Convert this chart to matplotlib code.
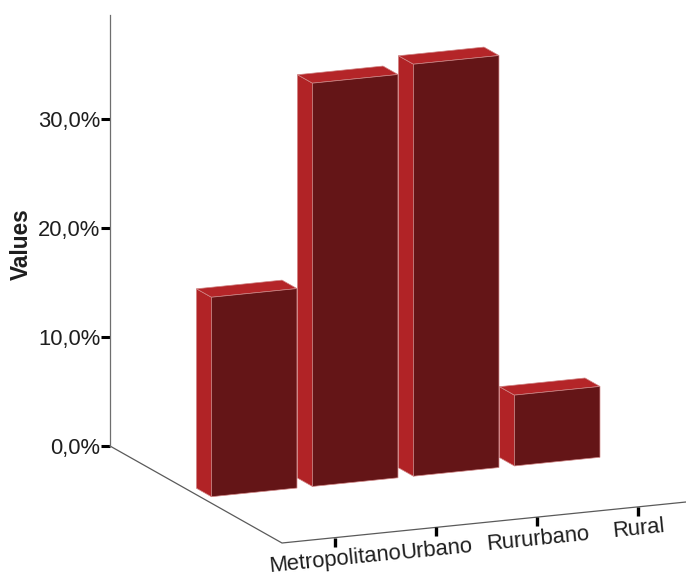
import matplotlib
matplotlib.use('Agg')
import matplotlib.pyplot as plt
from matplotlib.patches import Polygon
from matplotlib.ticker import FuncFormatter

# datos (porcentajes)
categories = ['Metropolitano', 'Urbano', 'Rururbano', 'Rural']
values = [18.3, 37.0, 37.8, 6.5]
y_ticks = [0, 10, 20, 30]

plt.rcParams['font.family'] = ['Liberation Sans', 'DejaVu Sans']

fig = plt.figure(figsize=(6.86, 5.79), dpi=100)
ax = fig.add_axes([0, 0, 1, 1])

# pixeles por % en el eje vertical y esquina trasera izquierda del suelo
PX = 10.9
X0, Y0 = 110, 446
ax.set_xlim(0, 686)
ax.set_ylim((Y0 - 579) / PX, Y0 / PX)

# proyeccion oblicua: u = categoria, w = profundidad (0 fondo, 1 frente), z = valor
EU = (101.0, 10.25 / PX)
EW = (172.0, -97.0 / PX)


def proj(u, w, z):
    return (X0 + u * EU[0] + w * EW[0], z + u * EU[1] + w * EW[1])


# eje de valores
for s in ['top', 'right', 'bottom']:
    ax.spines[s].set_visible(False)
ax.spines['left'].set_position(('data', X0))
ax.spines['left'].set_bounds(0, (Y0 - 15) / PX)
ax.spines['left'].set_color('#6e6e6e')
ax.spines['left'].set_linewidth(0.9)
ax.set_xticks([])
ax.set_yticks(y_ticks)
ax.yaxis.set_major_formatter(FuncFormatter(lambda v, p: f'{v:.1f}%'.replace('.', ',')))
ax.tick_params(axis='y', direction='out', length=6.5, width=2.2, pad=0.6,
               labelsize=15.8, color='black', labelcolor='#1e1e1e')
ax.patch.set_visible(False)

fig.text(21 / 686, 1 - 244 / 579, 'Values', rotation=90, ha='center', va='center',
         fontsize=16.3, fontweight='bold', color='#1e1e1e')

# bordes del suelo
pts = [proj(0, 0, 0), proj(0, 1, 0), proj(4, 1, 0)]
ax.plot([p[0] for p in pts], [p[1] for p in pts], color='#5a5a5a', lw=0.9,
        clip_on=False)

# barras (de atras hacia delante)
half_w = 0.4235
wb, wf = 0.446, 0.533
front_c = '#641517'
side_c = '#b12326'
top_c = '#b42528'
edge_c = '#d08585'
for i in reversed(range(len(values))):
    c = i + 0.52
    u0, u1 = c - half_w, c + half_w
    v = values[i]
    faces = [
        ([(u0, wb, 0), (u0, wf, 0), (u0, wf, v), (u0, wb, v)], side_c),
        ([(u0, wb, v), (u1, wb, v), (u1, wf, v), (u0, wf, v)], top_c),
        ([(u0, wf, 0), (u1, wf, 0), (u1, wf, v), (u0, wf, v)], front_c),
    ]
    for verts, col in faces:
        ax.add_patch(Polygon([proj(*p) for p in verts], closed=True,
                             facecolor=col, edgecolor=edge_c, lw=0.5))

# marcas y etiquetas del eje de categorias
for i, cat in enumerate(categories):
    x, y = proj(i + 0.52, 1, 0)
    ax.plot([x, x], [y, y - 9 / PX], color='black', lw=2.4,
            solid_capstyle='butt')
    ax.text(x, y - 12 / PX, cat, rotation=5.8, rotation_mode='anchor',
            ha='center', va='top', fontsize=15.8, color='#1e1e1e')

fig.savefig('out.png', dpi=100)
